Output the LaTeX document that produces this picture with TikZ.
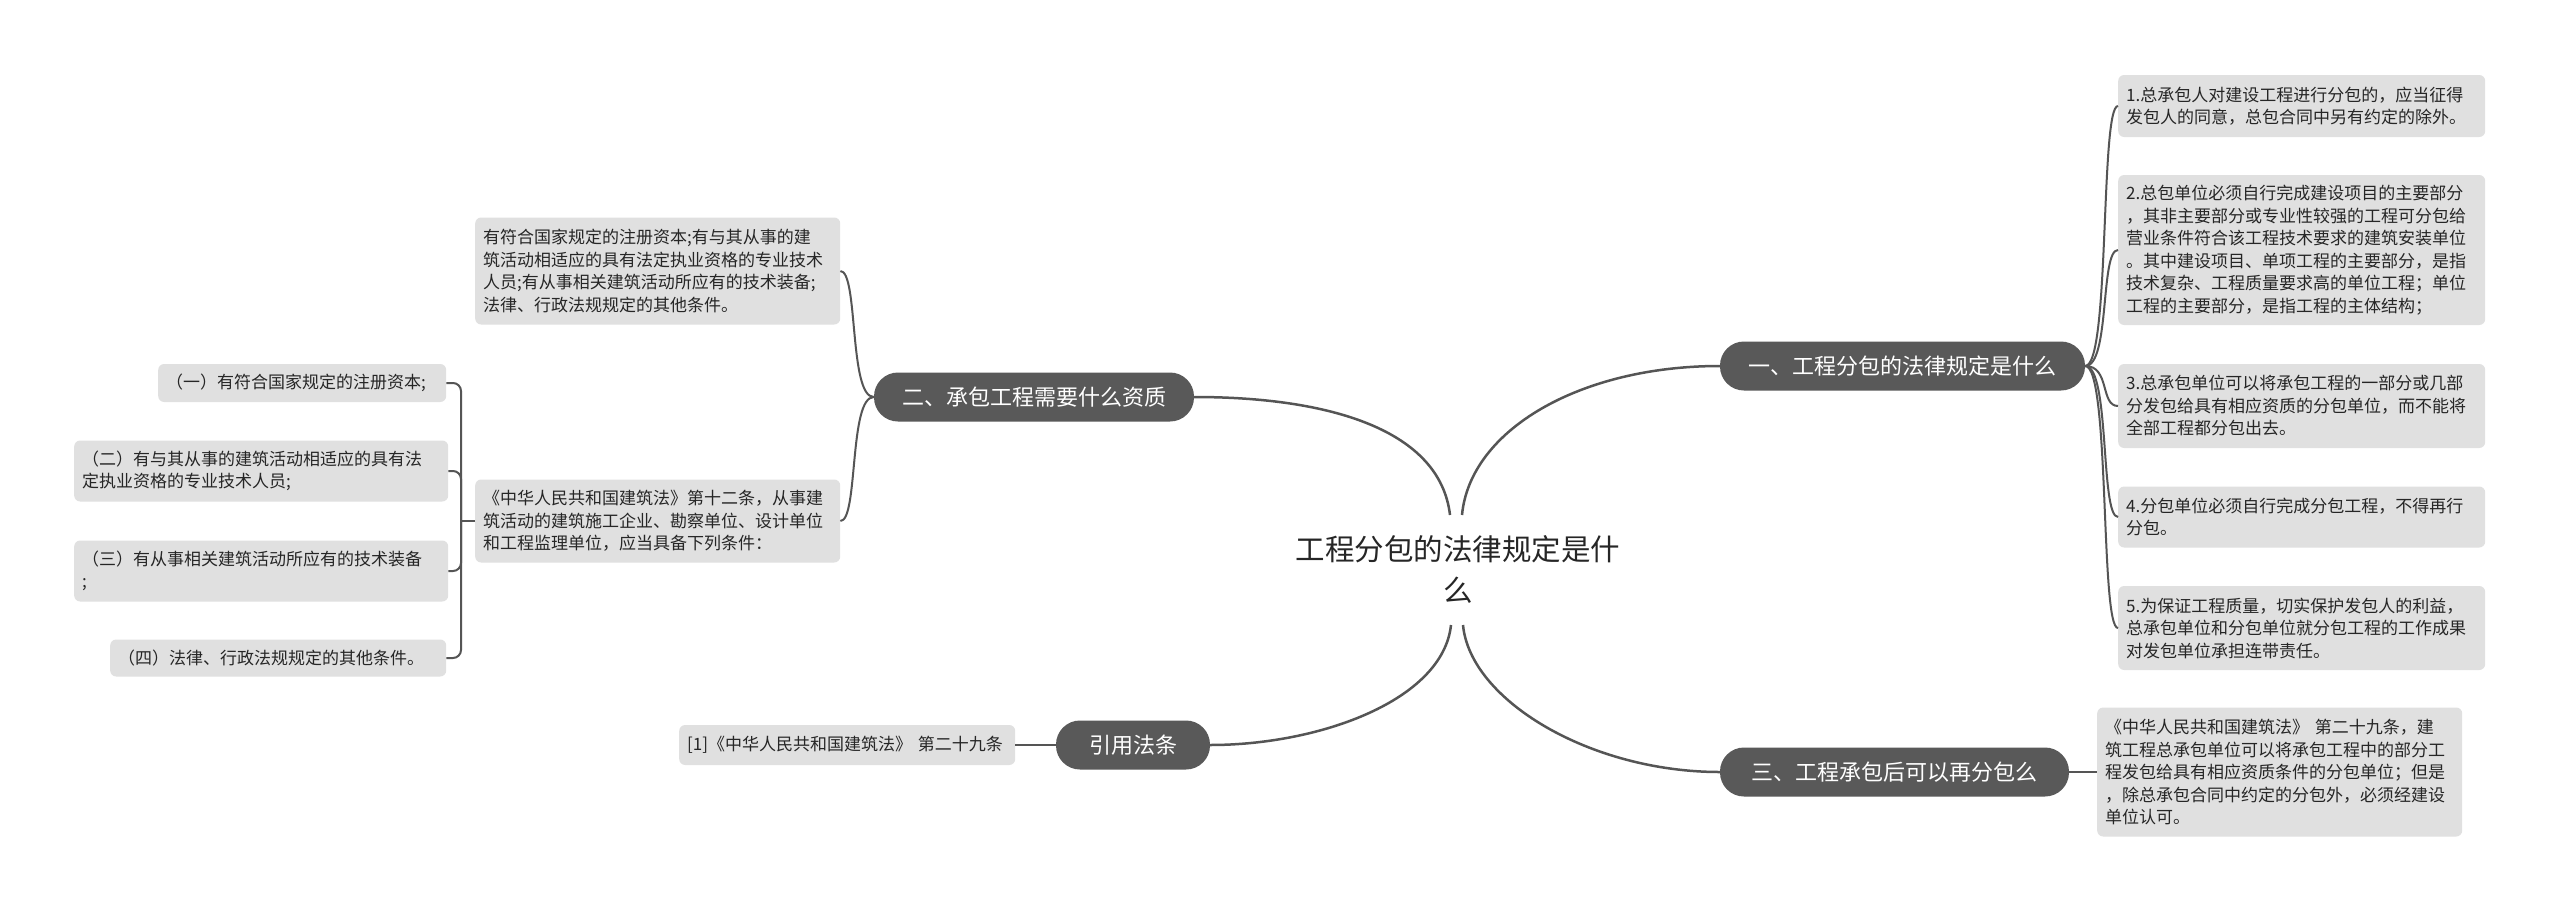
\documentclass[tikz,border=0pt]{standalone}
\usepackage{fontspec}
\setmainfont{Noto Sans CJK SC}
\definecolor{pillc}{HTML}{595959}
\definecolor{leafc}{HTML}{E0E0E0}
\definecolor{linec}{HTML}{555555}
\definecolor{txtc}{HTML}{262626}
\tikzset{
  pillnode/.style={fill=pillc, text=white, rounded corners=24pt, minimum height=49pt, inner xsep=0pt, inner ysep=0pt, font=\fontsize{22}{26}\selectfont},
  leafbox/.style={fill=leafc, text=txtc, rounded corners=6pt, inner xsep=8pt, inner ysep=0pt, align=left, anchor=west, font=\fontsize{17}{22.5}\selectfont},
  mainline/.style={draw=linec, line width=2.5pt},
  subline/.style={draw=linec, line width=2pt},
}
\begin{document}
\begin{tikzpicture}[x=1pt,y=-1pt]
\fill[white] (0,0) rectangle (2560,913);
\useasboundingbox (0,0) rectangle (2560,913);

% root
\node[font=\fontsize{29.5}{41}\selectfont, text=txtc, align=center] (root) at (1458,570) {工程分包的法律规定是什\\么};
\coordinate (rtL) at (1450,515);
\coordinate (rtR) at (1462,515);
\coordinate (rbL) at (1451,625);
\coordinate (rbR) at (1463,625);

% main branches
\node[pillnode, minimum width=365pt] (m1) at (1902.5,366) {一、工程分包的法律规定是什么};
\node[pillnode, minimum width=320pt] (m2) at (1034,397) {二、承包工程需要什么资质};
\node[pillnode, minimum width=349pt] (m3) at (1894.5,772) {三、工程承包后可以再分包么};
\node[pillnode, minimum width=154pt] (m4) at (1133,745) {引用法条};

% children of m1
\node[leafbox, text width=351pt, minimum height=62pt] (c1) at (2118,106) {1.总承包人对建设工程进行分包的，应当征得\\发包人的同意，总包合同中另有约定的除外。};
\node[leafbox, text width=351pt, minimum height=150pt] (c2) at (2118,250) {2.总包单位必须自行完成建设项目的主要部分\\，其非主要部分或专业性较强的工程可分包给\\营业条件符合该工程技术要求的建筑安装单位\\。其中建设项目、单项工程的主要部分，是指\\技术复杂、工程质量要求高的单位工程；单位\\工程的主要部分，是指工程的主体结构；};
\node[leafbox, text width=351pt, minimum height=84pt] (c3) at (2118,406) {3.总承包单位可以将承包工程的一部分或几部\\分发包给具有相应资质的分包单位，而不能将\\全部工程都分包出去。};
\node[leafbox, text width=351pt, minimum height=61pt] (c4) at (2118,517) {4.分包单位必须自行完成分包工程，不得再行\\分包。};
\node[leafbox, text width=351pt, minimum height=84pt] (c5) at (2118,628) {5.为保证工程质量，切实保护发包人的利益，\\总承包单位和分包单位就分包工程的工作成果\\对发包单位承担连带责任。};

% child of m3
\node[leafbox, text width=349pt, minimum height=129pt] (t1) at (2097,772) {《中华人民共和国建筑法》 第二十九条，建\\筑工程总承包单位可以将承包工程中的部分工\\程发包给具有相应资质条件的分包单位；但是\\，除总承包合同中约定的分包外，必须经建设\\单位认可。};

% children of m2
\node[leafbox, text width=349pt, minimum height=107pt] (a) at (475,271) {有符合国家规定的注册资本;有与其从事的建\\筑活动相适应的具有法定执业资格的专业技术\\人员;有从事相关建筑活动所应有的技术装备;\\法律、行政法规规定的其他条件。};
\node[leafbox, text width=349pt, minimum height=83pt] (b) at (475,521) {《中华人民共和国建筑法》第十二条，从事建\\筑活动的建筑施工企业、勘察单位、设计单位\\和工程监理单位，应当具备下列条件：};

% leaves of b
\node[leafbox, text width=272pt, minimum height=38pt] (l1) at (158,383) {（一）有符合国家规定的注册资本;};
\node[leafbox, text width=358pt, minimum height=61pt] (l2) at (74,471) {（二）有与其从事的建筑活动相适应的具有法\\定执业资格的专业技术人员;};
\node[leafbox, text width=358pt, minimum height=61pt] (l3) at (74,571) {（三）有从事相关建筑活动所应有的技术装备\\;};
\node[leafbox, text width=320pt, minimum height=37pt] (l4) at (110,658) {（四）法律、行政法规规定的其他条件。};

% child of m4
\node[leafbox, text width=320pt, minimum height=40pt] (r1) at (679,745) {[1]《中华人民共和国建筑法》 第二十九条};

% root connectors
\draw[mainline] (rtL) .. controls (1440,430) and (1330,397) .. (m2.east);
\draw[mainline] (rtR) .. controls (1470,430) and (1580,366) .. (m1.west);
\draw[mainline] (rbL) .. controls (1443,700) and (1320,745) .. (m4.east);
\draw[mainline] (rbR) .. controls (1470,700) and (1590,772) .. (m3.west);

% m1 children
\foreach \c in {c1,c2,c3,c4,c5}
  \draw[subline] (m1.east) .. controls +(25,0) and +(-18,0) .. (\c.west);
% m2 children
\foreach \c in {a,b}
  \draw[subline] (m2.west) .. controls +(-25,0) and +(18,0) .. (\c.east);
% m3, m4 children
\draw[subline] (m3.east) -- (t1.west);
\draw[subline] (m4.west) -- (r1.east);
% b leaves
\coordinate (bj) at (461,521);
\draw[subline] (b.west) -- (bj);
\foreach \l in {l1,l2,l3,l4}
  \draw[subline, rounded corners=8pt] (\l.east) -| (bj);
\end{tikzpicture}
\end{document}
